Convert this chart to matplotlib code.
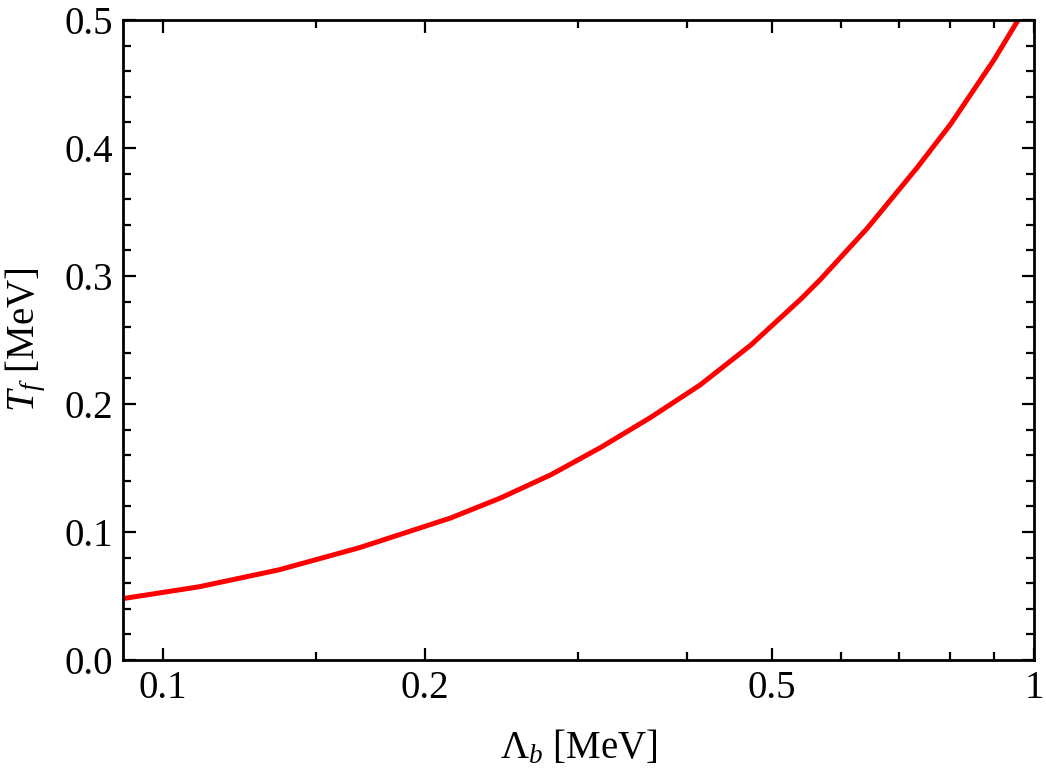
import numpy as np
import matplotlib.pyplot as plt
from matplotlib.ticker import FixedLocator, FixedFormatter, MultipleLocator

plt.rcParams['font.family'] = 'Liberation Serif'
plt.rcParams['mathtext.fontset'] = 'custom'
plt.rcParams['mathtext.rm'] = 'Liberation Serif'
plt.rcParams['mathtext.it'] = 'Liberation Serif:italic'

# curve
lam_b = [0.09, 0.11, 0.136, 0.168, 0.187, 0.214, 0.244, 0.279, 0.318, 0.363,
         0.414, 0.473, 0.540, 0.569, 0.644, 0.735, 0.803, 0.900, 0.959]
t_f = [0.0480, 0.0572, 0.0705, 0.0877, 0.0980, 0.1110, 0.1265, 0.1448, 0.1660,
       0.1895, 0.2150, 0.2460, 0.2820, 0.2975, 0.3375, 0.3850, 0.4190, 0.4690,
       0.5000]

x_major = [0.1, 0.2, 0.5, 1]
x_major_labels = ['0.1', '0.2', '0.5', '1']
x_minor = [0.15, 0.3, 0.4, 0.6, 0.7, 0.8, 0.9]

fs = 28

fig = plt.figure(figsize=(10.46, 7.69), dpi=100)
ax = fig.add_axes([0.1176, 0.1417, 0.8709, 0.8323])

ax.plot(lam_b, t_f, color='#ff0000', lw=3.6, solid_joinstyle='round')

ax.set_xscale('log')
ax.set_xlim(0.09, 1.0)
ax.set_ylim(0, 0.5)

ax.xaxis.set_major_locator(FixedLocator(x_major))
ax.xaxis.set_major_formatter(FixedFormatter(x_major_labels))
ax.xaxis.set_minor_locator(FixedLocator(x_minor))
ax.xaxis.set_minor_formatter(FixedFormatter([''] * len(x_minor)))
ax.yaxis.set_major_locator(MultipleLocator(0.1))
ax.yaxis.set_minor_locator(MultipleLocator(0.02))
ax.yaxis.set_major_formatter(plt.FuncFormatter(lambda v, p: '%.1f' % v))

ax.tick_params(which='both', direction='in', top=True, right=True, width=1.6,
               labelsize=fs)
ax.tick_params(which='major', length=9)
ax.tick_params(which='minor', length=5.5)
ax.tick_params(axis='x', pad=7)
ax.tick_params(axis='y', pad=7)
for s in ax.spines.values():
    s.set_linewidth(2)

ax.set_xlabel(r'$\Lambda_b$ [MeV]', fontsize=fs, labelpad=16)
ax.set_ylabel(r'$T_f$ [MeV]', fontsize=fs, labelpad=12)

fig.savefig('out.png', dpi=100)
